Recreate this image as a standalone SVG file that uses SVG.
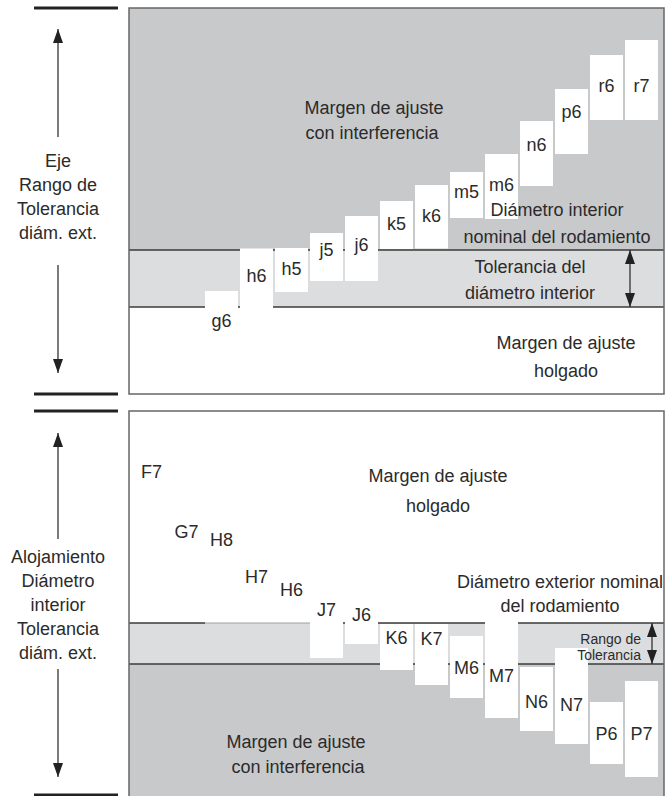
<svg xmlns="http://www.w3.org/2000/svg" width="670" height="796" viewBox="0 0 670 796">
<style>
text{font-family:"Liberation Sans",Arial,sans-serif;fill:#2b2b2b;font-size:18px}
.c{text-anchor:middle}
.bx{fill:#ffffff}
.dk{fill:#c8c9cb}
.lt{fill:#dcdddf}
.ln{stroke:#3a3a3a;stroke-width:1.5;fill:none}
.fl{stroke:#a0a0a0;stroke-width:1;fill:none}
.frame{fill:none;stroke:#666;stroke-width:1.5}
.bar{stroke:#222;stroke-width:3}
.ax{stroke:#333;stroke-width:1.3;fill:none}
.sm{font-size:14px;text-anchor:end}
</style>
<defs>
<marker id="ah" viewBox="0 0 14 10" refX="14" refY="5" markerWidth="14" markerHeight="10" markerUnits="userSpaceOnUse" orient="auto-start-reverse">
<path d="M0,0 L14,5 L0,10 Z" fill="#222"/>
</marker>
</defs>

<g id="shaft-panel">
<rect x="129" y="8" width="535" height="386" fill="#fff"/>
<rect class="dk" x="129" y="8" width="535" height="242"/>
<rect class="lt" x="129" y="250" width="535" height="57"/>
<line class="ln" x1="129" y1="250" x2="664" y2="250"/>
<line class="ln" x1="129" y1="307" x2="664" y2="307"/>
</g>

<g id="housing-panel">
<rect x="129" y="411" width="535" height="386" fill="#fff"/>
<rect class="lt" x="129" y="623" width="535" height="41"/>
<rect class="dk" x="129" y="664" width="535" height="133"/>
<line class="ln" x1="129" y1="623" x2="205" y2="623"/>
<line class="fl" x1="205" y1="623" x2="311" y2="623"/>
<line class="ln" x1="311" y1="623" x2="664" y2="623"/>
<line class="ln" x1="129" y1="664" x2="664" y2="664"/>
</g>

<g id="g6"><rect class="bx" x="205" y="291" width="33" height="50"/><text class="c" x="221.5" y="327">g6</text></g>
<g id="h6"><rect class="bx" x="240" y="248.5" width="33" height="67"/><text class="c" x="256.5" y="281.5">h6</text></g>
<g id="h5"><rect class="bx" x="275" y="248" width="33" height="44"/><text class="c" x="291.5" y="274.5">h5</text></g>
<g id="j5"><rect class="bx" x="310" y="233" width="33" height="48"/><text class="c" x="326.5" y="256">j5</text></g>
<g id="j6"><rect class="bx" x="345" y="216" width="33" height="65"/><text class="c" x="361.5" y="251">j6</text></g>
<g id="k5"><rect class="bx" x="380" y="201" width="33" height="48"/><text class="c" x="396.5" y="229.5">k5</text></g>
<g id="k6"><rect class="bx" x="415" y="185" width="33" height="63.5"/><text class="c" x="431.5" y="221.5">k6</text></g>
<g id="m5"><rect class="bx" x="450" y="172" width="33" height="46"/><text class="c" x="466.5" y="198">m5</text></g>
<g id="m6"><rect class="bx" x="485" y="154" width="33" height="65"/><text class="c" x="501.5" y="191">m6</text></g>
<g id="n6"><rect class="bx" x="520" y="121" width="33" height="65"/><text class="c" x="536.5" y="151">n6</text></g>
<g id="p6"><rect class="bx" x="555" y="89" width="33" height="65"/><text class="c" x="571.5" y="118">p6</text></g>
<g id="r6"><rect class="bx" x="590" y="55" width="33" height="65"/><text class="c" x="606.5" y="91.5">r6</text></g>
<g id="r7"><rect class="bx" x="625" y="40" width="33" height="80"/><text class="c" x="641.5" y="91.5">r7</text></g>

<g id="F7"><text class="c" x="151.5" y="477.5">F7</text></g>
<g id="G7"><text class="c" x="186.5" y="537.5">G7</text></g>
<g id="H8"><text class="c" x="221.5" y="545.5">H8</text></g>
<g id="H7"><text class="c" x="256.5" y="582.5">H7</text></g>
<g id="H6"><text class="c" x="291.5" y="595.5">H6</text></g>
<g id="J7"><rect class="bx" x="310" y="600" width="33" height="58"/><text class="c" x="326.5" y="615.5">J7</text></g>
<g id="J6"><rect class="bx" x="345" y="600" width="33" height="44"/><text class="c" x="361.5" y="620.5">J6</text></g>
<g id="K6"><rect class="bx" x="380" y="624" width="33" height="46"/><text class="c" x="396.5" y="643.5">K6</text></g>
<g id="K7"><rect class="bx" x="415" y="624" width="33" height="61"/><text class="c" x="431.5" y="644.5">K7</text></g>
<g id="M6"><rect class="bx" x="450" y="636" width="33" height="62"/><text class="c" x="466.5" y="673.5">M6</text></g>
<g id="M7"><rect class="bx" x="485" y="600" width="33" height="118"/><text class="c" x="501.5" y="681.5">M7</text></g>
<g id="N6"><rect class="bx" x="520" y="667" width="33" height="64"/><text class="c" x="536.5" y="707.5">N6</text></g>
<g id="N7"><rect class="bx" x="555" y="648" width="33" height="96"/><text class="c" x="571.5" y="710.5">N7</text></g>
<g id="P6"><rect class="bx" x="590" y="702" width="33" height="62"/><text class="c" x="606.5" y="739.5">P6</text></g>
<g id="P7"><rect class="bx" x="625" y="681" width="33" height="96"/><text class="c" x="641.5" y="739.5">P7</text></g>

<g id="frames">
<rect class="frame" x="129" y="8" width="535" height="386"/>
<rect class="frame" x="129" y="411" width="535" height="386"/>
</g>

<g id="top-labels">
<text class="c" x="374" y="114">Margen de ajuste</text>
<text class="c" x="372" y="139">con interferencia</text>
<text class="c" x="557" y="216">Diámetro interior</text>
<text class="c" x="557" y="243">nominal del rodamiento</text>
<text class="c" x="530" y="273">Tolerancia del</text>
<text class="c" x="530" y="299">diámetro interior</text>
<text class="c" x="566" y="349">Margen de ajuste</text>
<text class="c" x="566" y="377">holgado</text>
</g>

<g id="bottom-labels">
<text class="c" x="438" y="482">Margen de ajuste</text>
<text class="c" x="438" y="512">holgado</text>
<text class="c" x="560" y="588">Diámetro exterior nominal</text>
<text class="c" x="560" y="612">del rodamiento</text>
<text class="sm" x="641" y="644">Rango de</text>
<text class="sm" x="641" y="660">Tolerancia</text>
<text class="c" x="296" y="748">Margen de ajuste</text>
<text class="c" x="298" y="773">con interferencia</text>
</g>

<g id="shaft-axis">
<line class="bar" x1="34" y1="8" x2="118" y2="8"/>
<line class="bar" x1="34" y1="394" x2="118" y2="394"/>
<text class="c" x="58" y="167">Eje</text>
<text class="c" x="58" y="191">Rango de</text>
<text class="c" x="58" y="215">Tolerancia</text>
<text class="c" x="58" y="239">diám. ext.</text>
</g>

<g id="housing-axis">
<line class="bar" x1="34" y1="411" x2="118" y2="411"/>
<line class="bar" x1="34" y1="795" x2="118" y2="795"/>
<text class="c" x="58" y="563">Alojamiento</text>
<text class="c" x="58" y="587">Diámetro</text>
<text class="c" x="58" y="611">interior</text>
<text class="c" x="58" y="635">Tolerancia</text>
<text class="c" x="58" y="659">diám. ext.</text>
</g>

<g id="connectors">
<line class="ax" x1="58" y1="137" x2="58" y2="29" marker-end="url(#ah)"/>
<line class="ax" x1="58" y1="265" x2="58" y2="373" marker-end="url(#ah)"/>
<line class="ax" x1="58" y1="539" x2="58" y2="433" marker-end="url(#ah)"/>
<line class="ax" x1="58" y1="669" x2="58" y2="777" marker-end="url(#ah)"/>
<line class="ax" x1="630" y1="250" x2="630" y2="307" marker-start="url(#ah)" marker-end="url(#ah)"/>
<line class="ax" x1="652" y1="623" x2="652" y2="664" marker-start="url(#ah)" marker-end="url(#ah)"/>
</g>
</svg>
